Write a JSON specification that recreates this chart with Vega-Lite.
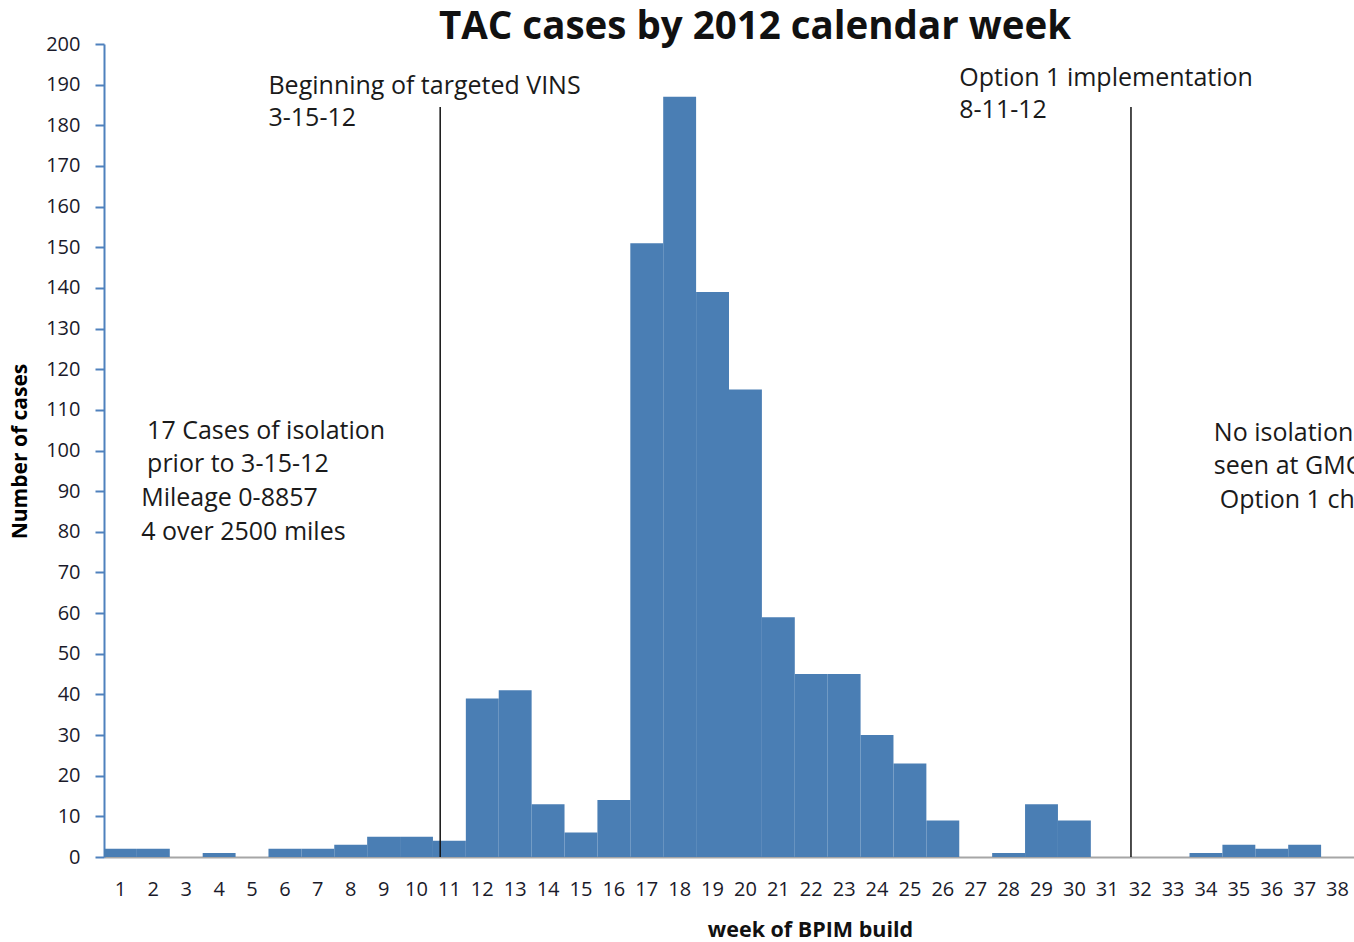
{
  "$schema": "https://vega.github.io/schema/vega-lite/v6.json",
  "width": 1250,
  "height": 813,
  "autosize": {"type": "none"},
  "padding": {"left": 104, "top": 44, "right": 0, "bottom": 85},
  "background": "white",
  "config": {"view": {"stroke": null}, "font": "Open Sans"},
  "title": {
    "text": "TAC cases by 2012 calendar week",
    "fontSize": 38.5,
    "fontWeight": "bold",
    "font": "Open Sans",
    "color": "#111111",
    "anchor": "middle",
    "dx": 26,
    "dy": 17,
    "offset": 4
  },
  "datasets": {
    "weeks": [
      {"week": "1", "cases": 2}, {"week": "2", "cases": 2}, {"week": "3", "cases": 0},
      {"week": "4", "cases": 1}, {"week": "5", "cases": 0}, {"week": "6", "cases": 2},
      {"week": "7", "cases": 2}, {"week": "8", "cases": 3}, {"week": "9", "cases": 5},
      {"week": "10", "cases": 5}, {"week": "11", "cases": 4}, {"week": "12", "cases": 39},
      {"week": "13", "cases": 41}, {"week": "14", "cases": 13}, {"week": "15", "cases": 6},
      {"week": "16", "cases": 14}, {"week": "17", "cases": 151}, {"week": "18", "cases": 187},
      {"week": "19", "cases": 139}, {"week": "20", "cases": 115}, {"week": "21", "cases": 59},
      {"week": "22", "cases": 45}, {"week": "23", "cases": 45}, {"week": "24", "cases": 30},
      {"week": "25", "cases": 23}, {"week": "26", "cases": 9}, {"week": "27", "cases": 0},
      {"week": "28", "cases": 1}, {"week": "29", "cases": 13}, {"week": "30", "cases": 9},
      {"week": "31", "cases": 0}, {"week": "32", "cases": 0}, {"week": "33", "cases": 0},
      {"week": "34", "cases": 1}, {"week": "35", "cases": 3}, {"week": "36", "cases": 2},
      {"week": "37", "cases": 3}, {"week": "38", "cases": 0}
    ],
    "events": [
      {"week": "11", "top": 184.5},
      {"week": "32", "top": 184.5}
    ],
    "notesTop": [
      {"week": "6", "y": 189.7, "label": "Beginning of targeted VINS"},
      {"week": "6", "y": 181.8, "label": "3-15-12"},
      {"week": "27", "y": 191.6, "label": "Option 1 implementation"},
      {"week": "27", "y": 183.8, "label": "8-11-12"}
    ],
    "notesIsoA": [
      {"week": "2", "y": 104.8, "label": "17  Cases of isolation"},
      {"week": "2", "y": 96.7, "label": "prior to 3-15-12"}
    ],
    "notesIsoB": [
      {"week": "2", "y": 88.3, "label": "Mileage 0-8857"},
      {"week": "2", "y": 80.0, "label": "4 over 2500  miles"}
    ],
    "notesRightA": [
      {"week": "34", "y": 104.3, "label": "No isolation"},
      {"week": "34", "y": 96.2, "label": "seen at GMC"}
    ],
    "notesRightB": [
      {"week": "34", "y": 87.8, "label": "Option 1 ch"}
    ]
  },
  "layer": [
    {
      "data": {"name": "weeks"},
      "mark": {"type": "bar", "color": "#4a7eb4"},
      "encoding": {
        "x": {
          "field": "week",
          "type": "ordinal",
          "sort": null,
          "scale": {"domain": ["1","2","3","4","5","6","7","8","9","10","11","12","13","14","15","16","17","18","19","20","21","22","23","24","25","26","27","28","29","30","31","32","33","34","35","36","37","38"], "paddingInner": 0, "paddingOuter": 0},
          "axis": {
            "title": "week of BPIM  build",
            "titleFont": "Open Sans",
            "titleFontSize": 21.5,
            "titleFontWeight": "bold",
            "titleColor": "#111111",
            "titleX": 706,
            "titleY": 73,
            "titleBaseline": "middle",
            "titleAnchor": "middle",
            "labelAngle": 0,
            "labelFont": "Open Sans",
            "labelFontSize": 20,
            "labelColor": "#1a1a2a",
            "labelPadding": 22,
            "ticks": false,
            "domainColor": "#a6a6a6",
            "domainWidth": 2,
            "grid": false
          }
        },
        "y": {
          "field": "cases",
          "type": "quantitative",
          "scale": {"domain": [0, 200], "nice": false},
          "axis": {
            "title": "Number of cases",
            "titleFont": "Open Sans",
            "titleFontSize": 21,
            "titleFontWeight": "bold",
            "titleColor": "#000000",
            "titleAngle": -90,
            "titleX": -84,
            "titleY": 407,
            "titleAlign": "center",
            "titleBaseline": "middle",
            "values": [0,10,20,30,40,50,60,70,80,90,100,110,120,130,140,150,160,170,180,190,200],
            "labelFont": "Open Sans",
            "labelFontSize": 20,
            "labelColor": "#1a1a2a",
            "labelPadding": 15,
            "tickSize": 9,
            "tickColor": "#4f81bd",
            "tickWidth": 2,
            "domainColor": "#4f81bd",
            "domainWidth": 2,
            "grid": false
          }
        }
      }
    },
    {
      "data": {"name": "events"},
      "mark": {"type": "rule", "color": "#111111", "strokeWidth": 1.5},
      "encoding": {
        "x": {"field": "week", "type": "ordinal", "bandPosition": 0.22},
        "y": {"field": "top", "type": "quantitative"},
        "y2": {"datum": 0}
      }
    },
    {
      "data": {"name": "notesTop"},
      "mark": {"type": "text", "align": "left", "baseline": "middle", "fontSize": 25, "color": "#1a1a1a"},
      "encoding": {
        "x": {"field": "week", "type": "ordinal", "bandPosition": 0},
        "y": {"field": "y", "type": "quantitative"},
        "text": {"field": "label"}
      }
    },
    {
      "data": {"name": "notesIsoA"},
      "mark": {"type": "text", "align": "left", "baseline": "middle", "fontSize": 25, "color": "#1a1a1a"},
      "encoding": {
        "x": {"field": "week", "type": "ordinal", "bandPosition": 0.31},
        "y": {"field": "y", "type": "quantitative"},
        "text": {"field": "label"}
      }
    },
    {
      "data": {"name": "notesIsoB"},
      "mark": {"type": "text", "align": "left", "baseline": "middle", "fontSize": 25, "color": "#1a1a1a"},
      "encoding": {
        "x": {"field": "week", "type": "ordinal", "bandPosition": 0.13},
        "y": {"field": "y", "type": "quantitative"},
        "text": {"field": "label"}
      }
    },
    {
      "data": {"name": "notesRightA"},
      "mark": {"type": "text", "align": "left", "baseline": "middle", "fontSize": 25, "color": "#1a1a1a", "clip": true},
      "encoding": {
        "x": {"field": "week", "type": "ordinal", "bandPosition": 0.74},
        "y": {"field": "y", "type": "quantitative"},
        "text": {"field": "label"}
      }
    },
    {
      "data": {"name": "notesRightB"},
      "mark": {"type": "text", "align": "left", "baseline": "middle", "fontSize": 25, "color": "#1a1a1a", "clip": true},
      "encoding": {
        "x": {"field": "week", "type": "ordinal", "bandPosition": 0.92},
        "y": {"field": "y", "type": "quantitative"},
        "text": {"field": "label"}
      }
    }
  ]
}
